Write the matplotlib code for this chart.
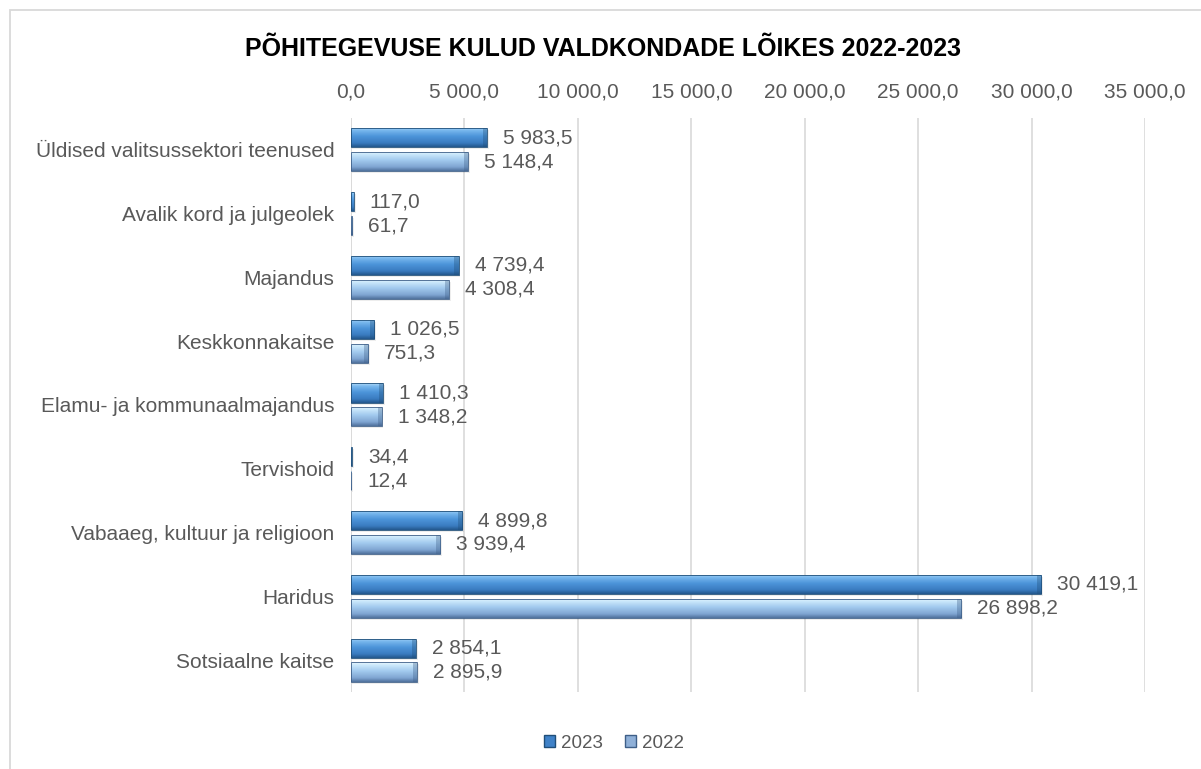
import numpy as np
import matplotlib.pyplot as plt
from matplotlib.colors import LinearSegmentedColormap
from matplotlib.patches import Rectangle, Patch

plt.rcParams['font.family'] = ['Liberation Sans', 'DejaVu Sans']

categories = ["Üldised valitsussektori teenused", "Avalik kord ja julgeolek", "Majandus",
              "Keskkonnakaitse", "Elamu- ja kommunaalmajandus", "Tervishoid",
              "Vabaaeg, kultuur ja religioon", "Haridus", "Sotsiaalne kaitse"]
v2023 = [5983.5, 117.0, 4739.4, 1026.5, 1410.3, 34.4, 4899.8, 30419.1, 2854.1]
v2022 = [5148.4, 61.7, 4308.4, 751.3, 1348.2, 12.4, 3939.4, 26898.2, 2895.9]
xticks = [0, 5000, 10000, 15000, 20000, 25000, 30000, 35000]

grey = "#595959"


def fmt(v):
    s = "{:,.1f}".format(v)
    return s.replace(",", " ").replace(".", ",")


# bevel-ish vertical gradients
cmap23 = LinearSegmentedColormap.from_list(
    "c23", [(0, "#b3dbf8"), (0.15, "#79b8ee"), (0.45, "#4d95da"), (0.8, "#3a7bc0"), (1, "#23578c")])
cmap22 = LinearSegmentedColormap.from_list(
    "c22", [(0, "#eaf7fe"), (0.15, "#cbe8fb"), (0.45, "#a2caee"), (0.8, "#7fa5d2"), (1, "#50719c")])
grad = np.linspace(0, 1, 64).reshape(-1, 1)

fig = plt.figure(figsize=(12.01, 7.69), dpi=100)
ax = fig.add_axes([0.2923, 0.1001, 0.9534 - 0.2923, 0.8466 - 0.1001])

# frame around the chart
fig.patches.append(Rectangle((10 / 1201, -0.1), 1.2, 1 - 10 / 769 + 0.1, transform=fig.transFigure,
                             fill=False, edgecolor="#d9d9d9", linewidth=1.3))

y = np.arange(len(categories))
h = 0.30
off = 0.187
bev = 180  # width of darker right end, data units

for vals, d, cm, edge in [(v2023, -off, cmap23, "#1f4e79"), (v2022, off, cmap22, "#3e5f88")]:
    for yi, v in zip(y, vals):
        c = yi + d
        # soft shadow
        ax.add_patch(Rectangle((40, c - h / 2 + 0.03), v + 40, h, facecolor="#000000",
                               alpha=0.07, edgecolor="none", zorder=2))
        rect = Rectangle((0, c - h / 2), v, h, facecolor="none", edgecolor=edge,
                         linewidth=0.6, zorder=4)
        ax.add_patch(rect)
        im = ax.imshow(grad, extent=(0, v, c + h / 2, c - h / 2), origin="upper",
                       aspect="auto", cmap=cm, zorder=3, interpolation="bilinear")
        im.set_clip_path(rect)
        if v > 2 * bev:
            ax.add_patch(Rectangle((v - bev, c - h / 2), bev, h, facecolor=edge,
                                   alpha=0.35, edgecolor="none", zorder=3.5))
        ax.annotate(fmt(v), (v, c), xytext=(11.5, 0), textcoords="offset points",
                    va="center", ha="left", fontsize=15, color=grey, zorder=5)

ax.set_xlim(0, 35000)
ax.set_ylim(len(categories) - 0.5, -0.5)
ax.set_yticks(y)
ax.set_yticklabels(categories, fontsize=15, color=grey)
ax.xaxis.tick_top()
ax.set_xticks(xticks)
ax.set_xticklabels([fmt(t) for t in xticks], fontsize=15, color=grey)
ax.tick_params(axis="both", length=0, pad=12)
ax.tick_params(axis="x", pad=12)
ax.grid(axis="x", color="#d9d9d9", linewidth=1.2, zorder=0)
ax.set_axisbelow(True)
for s in ax.spines.values():
    s.set_visible(False)
ax.axvline(0, color="#d9d9d9", linewidth=1.2, zorder=1)

fig.text(603 / 1201, 1 - 49 / 769, "PÕHITEGEVUSE KULUD VALDKONDADE LÕIKES 2022-2023",
         ha="center", va="center", fontsize=18, fontweight="bold", color="black")

handles = [Patch(facecolor="#3f82c8", edgecolor="#1f4e79", label="2023"),
           Patch(facecolor="#8fb0d8", edgecolor="#3e5f88", label="2022")]
fig.legend(handles=handles, loc="center", bbox_to_anchor=(614 / 1201, 1 - 743 / 769), ncol=2,
           frameon=False, fontsize=13.5, handlelength=0.6, handleheight=0.6,
           handletextpad=0.3, columnspacing=1.2, labelcolor=grey)

fig.savefig("out.png", dpi=100)
